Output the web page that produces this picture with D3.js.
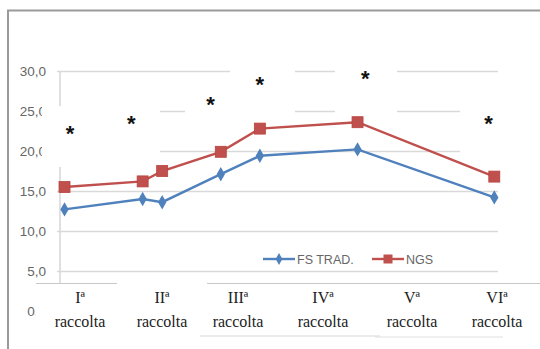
<!DOCTYPE html>
<html><head><meta charset="utf-8">
<script src="https://cdn.jsdelivr.net/npm/d3@7/dist/d3.min.js"></script>
<style>body{margin:0;background:#fff}svg{display:block}</style>
</head><body>
<svg id="c" width="540" height="349"></svg>
<script>
// ---- data ----
const sampleTimes = [0, 4, 5, 8, 10, 15, 22];
const fsTrad = [12.7, 14.0, 13.6, 17.1, 19.4, 20.2, 14.2];
const ngs = [15.5, 16.2, 17.5, 19.9, 22.8, 23.6, 16.8];
const seriesNames = ["FS TRAD.", "NGS"];
const yTicks = [0, 5, 10, 15, 20, 25, 30];
const catLabels = ["Iª", "IIª", "IIIª", "IVª", "Vª", "VIª"];
const catSub = "raccolta";
const sigTimes = [0.28, 3.42, 7.47, 10.0, 15.4, 21.7];
const sigValues = [22.8, 24.0, 26.4, 28.9, 29.6, 24.0];

const svg = d3.select("#c");
const x = d3.scaleLinear().domain([0, 22]).range([64.5, 494.3]);
const y = d3.scaleLinear().domain([0, 30]).range([311, 71]);
const blue = "#4F81BD", red = "#C0504D";

// frame
svg.append("path").attr("d","M8,349V10.5H540").attr("fill","none").attr("stroke","#9a9a9a").attr("stroke-width",2);

// y axis labels
const fmt = v => d3.format(".1f")(v).replace(".", ",");
svg.append("g").selectAll("text").data(yTicks).join("text")
  .attr("x", 46).attr("y", d => y(d) + 4.5)
  .attr("text-anchor","end").attr("font-family","'Liberation Sans', Arial, sans-serif")
  .attr("font-size", 13.5).attr("fill","#666").text(fmt);

// gridlines
const yAxis = d3.axisLeft(y).tickValues(yTicks.filter(d=>d>0)).tickSize(-(498-57)).tickFormat("");
const ga = svg.append("g").attr("transform","translate(57,0)").call(yAxis);
ga.select(".domain").remove();
ga.selectAll("line").attr("stroke","#d9d9d9").attr("stroke-width",1.6);
svg.append("line").attr("x1",60).attr("x2",60).attr("y1",y(30)).attr("y2",283)
  .attr("stroke","#d9d9d9").attr("stroke-width",1.6);

// white patches (pasted overlays)
const patches = [[42,106,118,61],[185,86,110,55],[230,55,65,46],[335,55,62,75],[460,95,80,70]];
svg.append("g").selectAll("rect").data(patches).join("rect")
  .attr("x",d=>d[0]).attr("y",d=>d[1]).attr("width",d=>d[2]).attr("height",d=>d[3]).attr("fill","#fff");

// lines
const line = vals => d3.line().x((d,i)=>x(sampleTimes[i])).y(d=>y(d))(vals);
svg.append("path").attr("d", line(fsTrad)).attr("fill","none").attr("stroke",blue).attr("stroke-width",2.4);
svg.append("path").attr("d", line(ngs)).attr("fill","none").attr("stroke",red).attr("stroke-width",2.4);
const diamond = d3.symbol().type(d3.symbolDiamond).size(60);
svg.append("g").selectAll("path").data(fsTrad).join("path")
  .attr("transform",(d,i)=>`translate(${x(sampleTimes[i])},${y(d)})`)
  .attr("d", diamond()).attr("fill",blue);
svg.append("g").selectAll("rect").data(ngs).join("rect")
  .attr("x",(d,i)=>x(sampleTimes[i])-5.5).attr("y",d=>y(d)-5.5)
  .attr("width",11).attr("height",11).attr("fill",red).attr("stroke","#b8433f").attr("stroke-width",0.8);

// significance asterisks
svg.append("g").selectAll("text").data(sigValues).join("text")
  .attr("x",(d,i)=>x(sigTimes[i])).attr("y",d=>y(d)+12)
  .attr("text-anchor","middle").attr("font-family","'Liberation Sans', Arial, sans-serif")
  .attr("font-weight","bold").attr("font-size",22).attr("fill","#111").text("*");

// legend
const lg = svg.append("g").attr("font-family","'Liberation Sans Narrow', 'Arial Narrow', 'Liberation Sans', sans-serif")
  .attr("font-size",12.5).attr("fill","#666");
const legendItems = [{name:seriesNames[0], color:blue, x0:263, kind:"d"},{name:seriesNames[1], color:red, x0:372, kind:"s"}];
legendItems.forEach(it=>{
  lg.append("line").attr("x1",it.x0).attr("x2",it.x0+32).attr("y1",259).attr("y2",259).attr("stroke",it.color).attr("stroke-width",2.4);
  if(it.kind==="d") lg.append("path").attr("transform",`translate(${it.x0+16},259)`).attr("d",d3.symbol().type(d3.symbolDiamond).size(40)()).attr("fill",it.color);
  else lg.append("rect").attr("x",it.x0+11.5).attr("y",254.5).attr("width",9).attr("height",9).attr("fill",it.color);
  lg.append("text").attr("x",it.x0+34).attr("y",263.5).text(it.name);
});

// category table overlay
svg.append("rect").attr("x",36).attr("y",283).attr("width",504).attr("height",55).attr("fill","#fff");
svg.append("line").attr("x1",36).attr("x2",117).attr("y1",283.5).attr("y2",283.5).attr("stroke","#c8c8c8");
svg.append("line").attr("x1",207).attr("x2",540).attr("y1",283.5).attr("y2",283.5).attr("stroke","#c8c8c8");
svg.append("line").attr("x1",200).attr("x2",380).attr("y1",336).attr("y2",336).attr("stroke","#d8d8d8");
svg.append("line").attr("x1",375).attr("x2",503).attr("y1",337).attr("y2",337).attr("stroke","#e0e0e0");
const catX = [80, 162, 238, 323, 412, 497];
const cg = svg.append("g").attr("font-family","'Liberation Serif', 'Times New Roman', serif").attr("font-size",16).attr("fill","#222").attr("text-anchor","middle");
catLabels.forEach((c,i)=>{
  cg.append("text").attr("x",catX[i]).attr("y",303).text(c);
  cg.append("text").attr("x",catX[i]).attr("y",327).text(catSub);
});
</script>
</body></html>
